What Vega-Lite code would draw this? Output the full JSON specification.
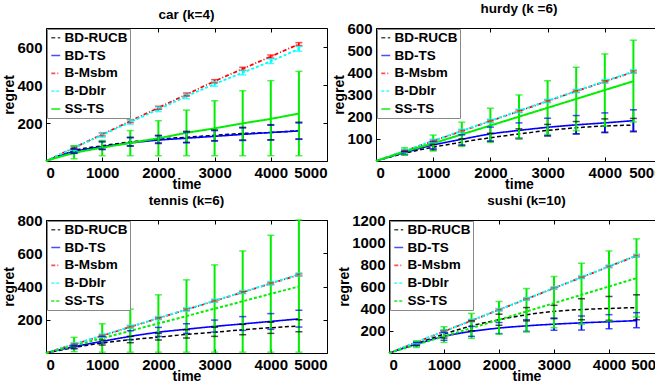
{
"$schema": "https://vega.github.io/schema/vega-lite/v6.json",
"background": "white",
"padding": {"left": 2, "top": 1, "right": -10, "bottom": 0},
"config": {
 "font": "Liberation Sans",
 "view": {"stroke": "black", "strokeWidth": 1},
 "axis": {"domain": false, "grid": false, "tickColor": "black", "tickSize": -4, "labelPadding": 8, "labelFont": "Liberation Sans", "labelFontWeight": "bold", "labelFontSize": 15, "labelColor": "black", "titleFont": "Liberation Sans", "titleFontSize": 14, "titleFontWeight": "bold", "titleColor": "black", "titlePadding": 0, "format": "d"},
 "axisX": {"titlePadding": -3},
 "title": {"font": "Liberation Sans", "fontSize": 13.5, "fontWeight": "bold", "color": "black", "offset": 6},
 "legend": {"orient": "top-left", "offset": 1, "padding": 2, "strokeColor": "#888888", "fillColor": "white", "labelFont": "Liberation Sans", "labelFontSize": 13.5, "labelFontWeight": "bold", "labelColor": "black", "symbolType": "stroke", "symbolSize": 80, "symbolStrokeWidth": 1.5, "rowPadding": 2.8, "labelOffset": 2}
},
"datasets": {
 "car": [
  {"t":0,"s":"BD-RUCB","m":0},{"t":500,"s":"BD-RUCB","m":55,"lo":42,"hi":68},{"t":1000,"s":"BD-RUCB","m":80,"lo":62,"hi":104},{"t":1500,"s":"BD-RUCB","m":100,"lo":80,"hi":125},{"t":2000,"s":"BD-RUCB","m":115,"lo":95,"hi":135},{"t":2500,"s":"BD-RUCB","m":125,"lo":98,"hi":156},{"t":3000,"s":"BD-RUCB","m":135,"lo":107,"hi":163},{"t":3500,"s":"BD-RUCB","m":145,"lo":110,"hi":177},{"t":4000,"s":"BD-RUCB","m":150,"lo":112,"hi":191},{"t":4500,"s":"BD-RUCB","m":160,"lo":116,"hi":204},
  {"t":0,"s":"BD-TS","m":0},{"t":500,"s":"BD-TS","m":50,"lo":40,"hi":62},{"t":1000,"s":"BD-TS","m":75,"lo":60,"hi":100},{"t":1500,"s":"BD-TS","m":95,"lo":78,"hi":122},{"t":2000,"s":"BD-TS","m":110,"lo":92,"hi":132},{"t":2500,"s":"BD-TS","m":120,"lo":96,"hi":152},{"t":3000,"s":"BD-TS","m":130,"lo":105,"hi":160},{"t":3500,"s":"BD-TS","m":140,"lo":108,"hi":174},{"t":4000,"s":"BD-TS","m":150,"lo":110,"hi":188},{"t":4500,"s":"BD-TS","m":158,"lo":114,"hi":200},
  {"t":0,"s":"B-Msbm","m":0},{"t":500,"s":"B-Msbm","m":70,"lo":62,"hi":78},{"t":1000,"s":"B-Msbm","m":140,"lo":132,"hi":148},{"t":1500,"s":"B-Msbm","m":210,"lo":202,"hi":218},{"t":2000,"s":"B-Msbm","m":280,"lo":272,"hi":288},{"t":2500,"s":"B-Msbm","m":350,"lo":342,"hi":358},{"t":3000,"s":"B-Msbm","m":420,"lo":412,"hi":428},{"t":3500,"s":"B-Msbm","m":485,"lo":477,"hi":493},{"t":4000,"s":"B-Msbm","m":550,"lo":542,"hi":558},{"t":4500,"s":"B-Msbm","m":615,"lo":607,"hi":623},
  {"t":0,"s":"B-Dblr","m":0},{"t":500,"s":"B-Dblr","m":68,"lo":56,"hi":80},{"t":1000,"s":"B-Dblr","m":137,"lo":125,"hi":149},{"t":1500,"s":"B-Dblr","m":205,"lo":193,"hi":217},{"t":2000,"s":"B-Dblr","m":272,"lo":260,"hi":284},{"t":2500,"s":"B-Dblr","m":340,"lo":328,"hi":352},{"t":3000,"s":"B-Dblr","m":405,"lo":393,"hi":417},{"t":3500,"s":"B-Dblr","m":465,"lo":453,"hi":477},{"t":4000,"s":"B-Dblr","m":525,"lo":513,"hi":537},{"t":4500,"s":"B-Dblr","m":590,"lo":578,"hi":602},
  {"t":0,"s":"SS-TS","m":0},{"t":500,"s":"SS-TS","m":42,"lo":12,"hi":80},{"t":1000,"s":"SS-TS","m":70,"lo":28,"hi":108},{"t":1500,"s":"SS-TS","m":95,"lo":28,"hi":160},{"t":2000,"s":"SS-TS","m":120,"lo":28,"hi":212},{"t":2500,"s":"SS-TS","m":148,"lo":28,"hi":268},{"t":3000,"s":"SS-TS","m":172,"lo":28,"hi":317},{"t":3500,"s":"SS-TS","m":198,"lo":28,"hi":370},{"t":4000,"s":"SS-TS","m":222,"lo":28,"hi":423},{"t":4500,"s":"SS-TS","m":250,"lo":28,"hi":472}
 ],
 "hurdy": [
  {"t":0,"s":"BD-RUCB","m":0},{"t":500,"s":"BD-RUCB","m":35,"lo":28,"hi":42},{"t":1000,"s":"BD-RUCB","m":62,"lo":50,"hi":75},{"t":1500,"s":"BD-RUCB","m":85,"lo":70,"hi":100},{"t":2000,"s":"BD-RUCB","m":105,"lo":88,"hi":125},{"t":2500,"s":"BD-RUCB","m":122,"lo":100,"hi":145},{"t":3000,"s":"BD-RUCB","m":138,"lo":113,"hi":165},{"t":3500,"s":"BD-RUCB","m":150,"lo":122,"hi":178},{"t":4000,"s":"BD-RUCB","m":158,"lo":128,"hi":190},{"t":4500,"s":"BD-RUCB","m":162,"lo":132,"hi":192},
  {"t":0,"s":"BD-TS","m":0},{"t":500,"s":"BD-TS","m":38,"lo":30,"hi":46},{"t":1000,"s":"BD-TS","m":72,"lo":55,"hi":88},{"t":1500,"s":"BD-TS","m":98,"lo":72,"hi":118},{"t":2000,"s":"BD-TS","m":122,"lo":90,"hi":153},{"t":2500,"s":"BD-TS","m":138,"lo":103,"hi":172},{"t":3000,"s":"BD-TS","m":152,"lo":115,"hi":193},{"t":3500,"s":"BD-TS","m":163,"lo":123,"hi":205},{"t":4000,"s":"BD-TS","m":172,"lo":130,"hi":217},{"t":4500,"s":"BD-TS","m":182,"lo":135,"hi":231},
  {"t":0,"s":"B-Msbm","m":0},{"t":500,"s":"B-Msbm","m":45,"lo":40,"hi":50},{"t":1000,"s":"B-Msbm","m":90,"lo":85,"hi":95},{"t":1500,"s":"B-Msbm","m":135,"lo":130,"hi":140},{"t":2000,"s":"B-Msbm","m":180,"lo":175,"hi":185},{"t":2500,"s":"B-Msbm","m":225,"lo":220,"hi":230},{"t":3000,"s":"B-Msbm","m":270,"lo":265,"hi":275},{"t":3500,"s":"B-Msbm","m":315,"lo":310,"hi":320},{"t":4000,"s":"B-Msbm","m":358,"lo":353,"hi":363},{"t":4500,"s":"B-Msbm","m":402,"lo":397,"hi":407},
  {"t":0,"s":"B-Dblr","m":0},{"t":500,"s":"B-Dblr","m":46,"lo":38,"hi":54},{"t":1000,"s":"B-Dblr","m":91,"lo":83,"hi":99},{"t":1500,"s":"B-Dblr","m":136,"lo":128,"hi":144},{"t":2000,"s":"B-Dblr","m":181,"lo":173,"hi":189},{"t":2500,"s":"B-Dblr","m":226,"lo":218,"hi":234},{"t":3000,"s":"B-Dblr","m":271,"lo":263,"hi":279},{"t":3500,"s":"B-Dblr","m":316,"lo":308,"hi":324},{"t":4000,"s":"B-Dblr","m":360,"lo":352,"hi":368},{"t":4500,"s":"B-Dblr","m":404,"lo":396,"hi":412},
  {"t":0,"s":"SS-TS","m":0},{"t":500,"s":"SS-TS","m":42,"lo":28,"hi":60},{"t":1000,"s":"SS-TS","m":80,"lo":45,"hi":117},{"t":1500,"s":"SS-TS","m":120,"lo":66,"hi":175},{"t":2000,"s":"SS-TS","m":160,"lo":84,"hi":238},{"t":2500,"s":"SS-TS","m":200,"lo":103,"hi":298},{"t":3000,"s":"SS-TS","m":240,"lo":120,"hi":362},{"t":3500,"s":"SS-TS","m":280,"lo":137,"hi":423},{"t":4000,"s":"SS-TS","m":320,"lo":157,"hi":483},{"t":4500,"s":"SS-TS","m":360,"lo":176,"hi":545}
 ],
 "tennis": [
  {"t":0,"s":"BD-RUCB","m":0},{"t":500,"s":"BD-RUCB","m":33,"lo":25,"hi":42},{"t":1000,"s":"BD-RUCB","m":60,"lo":48,"hi":78},{"t":1500,"s":"BD-RUCB","m":80,"lo":62,"hi":100},{"t":2000,"s":"BD-RUCB","m":95,"lo":78,"hi":118},{"t":2500,"s":"BD-RUCB","m":112,"lo":90,"hi":140},{"t":3000,"s":"BD-RUCB","m":125,"lo":100,"hi":155},{"t":3500,"s":"BD-RUCB","m":140,"lo":110,"hi":172},{"t":4000,"s":"BD-RUCB","m":152,"lo":118,"hi":185},{"t":4500,"s":"BD-RUCB","m":163,"lo":128,"hi":200},
  {"t":0,"s":"BD-TS","m":0},{"t":500,"s":"BD-TS","m":38,"lo":30,"hi":46},{"t":1000,"s":"BD-TS","m":70,"lo":60,"hi":100},{"t":1500,"s":"BD-TS","m":100,"lo":80,"hi":134},{"t":2000,"s":"BD-TS","m":125,"lo":100,"hi":154},{"t":2500,"s":"BD-TS","m":143,"lo":118,"hi":176},{"t":3000,"s":"BD-TS","m":160,"lo":126,"hi":198},{"t":3500,"s":"BD-TS","m":175,"lo":136,"hi":219},{"t":4000,"s":"BD-TS","m":190,"lo":142,"hi":237},{"t":4500,"s":"BD-TS","m":205,"lo":156,"hi":257},
  {"t":0,"s":"B-Msbm","m":0},{"t":500,"s":"B-Msbm","m":52,"lo":46,"hi":58},{"t":1000,"s":"B-Msbm","m":104,"lo":98,"hi":110},{"t":1500,"s":"B-Msbm","m":157,"lo":151,"hi":163},{"t":2000,"s":"B-Msbm","m":209,"lo":203,"hi":215},{"t":2500,"s":"B-Msbm","m":261,"lo":255,"hi":267},{"t":3000,"s":"B-Msbm","m":313,"lo":307,"hi":319},{"t":3500,"s":"B-Msbm","m":365,"lo":359,"hi":371},{"t":4000,"s":"B-Msbm","m":418,"lo":412,"hi":424},{"t":4500,"s":"B-Msbm","m":470,"lo":464,"hi":476},
  {"t":0,"s":"B-Dblr","m":0},{"t":500,"s":"B-Dblr","m":53,"lo":43,"hi":63},{"t":1000,"s":"B-Dblr","m":105,"lo":95,"hi":115},{"t":1500,"s":"B-Dblr","m":158,"lo":148,"hi":168},{"t":2000,"s":"B-Dblr","m":210,"lo":200,"hi":220},{"t":2500,"s":"B-Dblr","m":262,"lo":252,"hi":272},{"t":3000,"s":"B-Dblr","m":315,"lo":305,"hi":325},{"t":3500,"s":"B-Dblr","m":367,"lo":357,"hi":377},{"t":4000,"s":"B-Dblr","m":420,"lo":410,"hi":430},{"t":4500,"s":"B-Dblr","m":473,"lo":463,"hi":483},
  {"t":0,"s":"SS-TS","m":0},{"t":500,"s":"SS-TS","m":44,"lo":8,"hi":94},{"t":1000,"s":"SS-TS","m":89,"lo":5,"hi":176},{"t":1500,"s":"SS-TS","m":133,"lo":5,"hi":264},{"t":2000,"s":"SS-TS","m":178,"lo":5,"hi":350},{"t":2500,"s":"SS-TS","m":222,"lo":5,"hi":440},{"t":3000,"s":"SS-TS","m":267,"lo":5,"hi":530},{"t":3500,"s":"SS-TS","m":311,"lo":5,"hi":614},{"t":4000,"s":"SS-TS","m":356,"lo":5,"hi":708},{"t":4500,"s":"SS-TS","m":400,"lo":5,"hi":800}
 ],
 "sushi": [
  {"t":0,"s":"BD-RUCB","m":0},{"t":500,"s":"BD-RUCB","m":85,"lo":70,"hi":100},{"t":1000,"s":"BD-RUCB","m":170,"lo":135,"hi":205},{"t":1500,"s":"BD-RUCB","m":245,"lo":200,"hi":290},{"t":2000,"s":"BD-RUCB","m":300,"lo":250,"hi":350},{"t":2500,"s":"BD-RUCB","m":345,"lo":290,"hi":410},{"t":3000,"s":"BD-RUCB","m":375,"lo":310,"hi":430},{"t":3500,"s":"BD-RUCB","m":392,"lo":300,"hi":490},{"t":4000,"s":"BD-RUCB","m":402,"lo":295,"hi":510},{"t":4500,"s":"BD-RUCB","m":410,"lo":300,"hi":525},
  {"t":0,"s":"BD-TS","m":0},{"t":500,"s":"BD-TS","m":80,"lo":65,"hi":95},{"t":1000,"s":"BD-TS","m":150,"lo":115,"hi":185},{"t":1500,"s":"BD-TS","m":195,"lo":150,"hi":240},{"t":2000,"s":"BD-TS","m":225,"lo":175,"hi":275},{"t":2500,"s":"BD-TS","m":245,"lo":195,"hi":300},{"t":3000,"s":"BD-TS","m":260,"lo":205,"hi":315},{"t":3500,"s":"BD-TS","m":272,"lo":207,"hi":334},{"t":4000,"s":"BD-TS","m":282,"lo":219,"hi":346},{"t":4500,"s":"BD-TS","m":292,"lo":228,"hi":364},
  {"t":0,"s":"B-Msbm","m":0},{"t":500,"s":"B-Msbm","m":97,"lo":89,"hi":105},{"t":1000,"s":"B-Msbm","m":195,"lo":187,"hi":203},{"t":1500,"s":"B-Msbm","m":292,"lo":284,"hi":300},{"t":2000,"s":"B-Msbm","m":390,"lo":382,"hi":398},{"t":2500,"s":"B-Msbm","m":487,"lo":479,"hi":495},{"t":3000,"s":"B-Msbm","m":585,"lo":577,"hi":593},{"t":3500,"s":"B-Msbm","m":682,"lo":674,"hi":690},{"t":4000,"s":"B-Msbm","m":780,"lo":772,"hi":788},{"t":4500,"s":"B-Msbm","m":877,"lo":869,"hi":885},
  {"t":0,"s":"B-Dblr","m":0},{"t":500,"s":"B-Dblr","m":98,"lo":86,"hi":110},{"t":1000,"s":"B-Dblr","m":196,"lo":184,"hi":208},{"t":1500,"s":"B-Dblr","m":293,"lo":281,"hi":305},{"t":2000,"s":"B-Dblr","m":391,"lo":379,"hi":403},{"t":2500,"s":"B-Dblr","m":488,"lo":476,"hi":500},{"t":3000,"s":"B-Dblr","m":586,"lo":574,"hi":598},{"t":3500,"s":"B-Dblr","m":684,"lo":672,"hi":696},{"t":4000,"s":"B-Dblr","m":782,"lo":770,"hi":794},{"t":4500,"s":"B-Dblr","m":880,"lo":868,"hi":892},
  {"t":0,"s":"SS-TS","m":0},{"t":500,"s":"SS-TS","m":75,"lo":50,"hi":105},{"t":1000,"s":"SS-TS","m":150,"lo":96,"hi":237},{"t":1500,"s":"SS-TS","m":225,"lo":132,"hi":357},{"t":2000,"s":"SS-TS","m":300,"lo":170,"hi":465},{"t":2500,"s":"SS-TS","m":375,"lo":190,"hi":582},{"t":3000,"s":"SS-TS","m":450,"lo":228,"hi":690},{"t":3500,"s":"SS-TS","m":525,"lo":258,"hi":810},{"t":4000,"s":"SS-TS","m":600,"lo":288,"hi":921},{"t":4500,"s":"SS-TS","m":675,"lo":325,"hi":1030}
 ]
},
"vconcat": [
 {"hconcat": [
  {"width": 281, "height": 133, "title": "car (k=4)", "data": {"name": "car"},
   "layer": [
    {"mark": {"type": "line", "interpolate": "monotone"},
     "encoding": {
      "x": {"field": "t", "type": "quantitative", "scale": {"domain": [0, 5000], "nice": false}, "axis": {"values": [0,1000,2000,3000,4000,5000], "title": "time"}},
      "y": {"field": "m", "type": "quantitative", "scale": {"domain": [0, 700], "nice": false}, "axis": {"values": [200,400,600], "title": "regret"}},
      "color": {"field": "s", "type": "nominal", "scale": {"domain": ["BD-RUCB","BD-TS","B-Msbm","B-Dblr","SS-TS"], "range": ["#000000","#0000ff","#ff0000","#00ffff","#00ee00"]}, "legend": {"title": null}},
      "strokeDash": {"field": "s", "type": "nominal", "scale": {"domain": ["BD-RUCB","BD-TS","B-Msbm","B-Dblr","SS-TS"], "range": [[4,2.5],[1,0],[4,2,1,2],[3,2],[1,0]]}, "legend": {"title": null}},
      "strokeWidth": {"field": "s", "type": "nominal", "scale": {"domain": ["BD-RUCB","BD-TS","B-Msbm","B-Dblr","SS-TS"], "range": [1.5,2,1.5,2,2]}, "legend": null}}},
    {"transform": [{"filter": "datum.t > 0"}], "mark": {"type": "rule"},
     "encoding": {
      "x": {"field": "t", "type": "quantitative", "scale": {"domain": [0, 5000], "nice": false}, "axis": null},
      "y": {"field": "lo", "type": "quantitative", "scale": {"domain": [0, 700], "nice": false}, "axis": null},
      "y2": {"field": "hi"},
      "color": {"field": "s", "type": "nominal"},
      "strokeWidth": {"field": "s", "type": "nominal", "legend": null}}},
    {"transform": [{"filter": "datum.t > 0"}], "mark": {"type": "tick", "orient": "horizontal", "size": 7, "thickness": 1.5},
     "encoding": {
      "x": {"field": "t", "type": "quantitative", "scale": {"domain": [0, 5000], "nice": false}, "axis": null},
      "y": {"field": "lo", "type": "quantitative", "scale": {"domain": [0, 700], "nice": false}, "axis": null},
      "color": {"field": "s", "type": "nominal"}}},
    {"transform": [{"filter": "datum.t > 0"}], "mark": {"type": "tick", "orient": "horizontal", "size": 7, "thickness": 1.5},
     "encoding": {
      "x": {"field": "t", "type": "quantitative", "scale": {"domain": [0, 5000], "nice": false}, "axis": null},
      "y": {"field": "hi", "type": "quantitative", "scale": {"domain": [0, 700], "nice": false}, "axis": null},
      "color": {"field": "s", "type": "nominal"}}},
    {"mark": {"type": "point", "opacity": 0},
     "encoding": {
      "x": {"field": "t", "type": "quantitative", "scale": {"domain": [0, 5000], "nice": false}, "axis": {"orient": "top", "labels": false, "title": null, "values": [0,1000,2000,3000,4000,5000]}},
      "y": {"field": "m", "type": "quantitative", "scale": {"domain": [0, 700], "nice": false}, "axis": {"orient": "right", "labels": false, "title": null, "values": [200,400,600]}}}}
   ],
   "resolve": {"axis": {"x": "independent", "y": "independent"}}},
  {"width": 286, "height": 133, "title": "hurdy (k =6)", "data": {"name": "hurdy"},
   "layer": [
    {"mark": {"type": "line", "interpolate": "monotone"},
     "encoding": {
      "x": {"field": "t", "type": "quantitative", "scale": {"domain": [0, 5000], "nice": false}, "axis": {"values": [0,1000,2000,3000,4000,5000], "title": "time"}},
      "y": {"field": "m", "type": "quantitative", "scale": {"domain": [0, 600], "nice": false}, "axis": {"values": [100,200,300,400,500,600], "title": "regret"}},
      "color": {"field": "s", "type": "nominal", "scale": {"domain": ["BD-RUCB","BD-TS","B-Msbm","B-Dblr","SS-TS"], "range": ["#000000","#0000ff","#ff0000","#00ffff","#00ee00"]}, "legend": {"title": null}},
      "strokeDash": {"field": "s", "type": "nominal", "scale": {"domain": ["BD-RUCB","BD-TS","B-Msbm","B-Dblr","SS-TS"], "range": [[4,2.5],[1,0],[4,2,1,2],[3,2],[1,0]]}, "legend": {"title": null}},
      "strokeWidth": {"field": "s", "type": "nominal", "scale": {"domain": ["BD-RUCB","BD-TS","B-Msbm","B-Dblr","SS-TS"], "range": [1.5,2,1.5,2,2]}, "legend": null}}},
    {"transform": [{"filter": "datum.t > 0"}], "mark": {"type": "rule"},
     "encoding": {
      "x": {"field": "t", "type": "quantitative", "scale": {"domain": [0, 5000], "nice": false}, "axis": null},
      "y": {"field": "lo", "type": "quantitative", "scale": {"domain": [0, 600], "nice": false}, "axis": null},
      "y2": {"field": "hi"},
      "color": {"field": "s", "type": "nominal"},
      "strokeWidth": {"field": "s", "type": "nominal", "legend": null}}},
    {"transform": [{"filter": "datum.t > 0"}], "mark": {"type": "tick", "orient": "horizontal", "size": 7, "thickness": 1.5},
     "encoding": {
      "x": {"field": "t", "type": "quantitative", "scale": {"domain": [0, 5000], "nice": false}, "axis": null},
      "y": {"field": "lo", "type": "quantitative", "scale": {"domain": [0, 600], "nice": false}, "axis": null},
      "color": {"field": "s", "type": "nominal"}}},
    {"transform": [{"filter": "datum.t > 0"}], "mark": {"type": "tick", "orient": "horizontal", "size": 7, "thickness": 1.5},
     "encoding": {
      "x": {"field": "t", "type": "quantitative", "scale": {"domain": [0, 5000], "nice": false}, "axis": null},
      "y": {"field": "hi", "type": "quantitative", "scale": {"domain": [0, 600], "nice": false}, "axis": null},
      "color": {"field": "s", "type": "nominal"}}},
    {"mark": {"type": "point", "opacity": 0},
     "encoding": {
      "x": {"field": "t", "type": "quantitative", "scale": {"domain": [0, 5000], "nice": false}, "axis": {"orient": "top", "labels": false, "title": null, "values": [0,1000,2000,3000,4000,5000]}},
      "y": {"field": "m", "type": "quantitative", "scale": {"domain": [0, 600], "nice": false}, "axis": {"orient": "right", "labels": false, "title": null, "values": [100,200,300,400,500,600]}}}}
   ],
   "resolve": {"axis": {"x": "independent", "y": "independent"}}}
 ],
 "spacing": 49, "bounds": "flush",
 "resolve": {"scale": {"color": "independent", "strokeDash": "independent", "strokeWidth": "independent"}, "legend": {"color": "independent", "strokeDash": "independent"}}},
 {"hconcat": [
  {"width": 281, "height": 133, "title": "tennis (k=6)", "data": {"name": "tennis"},
   "layer": [
    {"mark": {"type": "line", "interpolate": "monotone"},
     "encoding": {
      "x": {"field": "t", "type": "quantitative", "scale": {"domain": [0, 5000], "nice": false}, "axis": {"values": [0,1000,2000,3000,4000,5000], "title": "time"}},
      "y": {"field": "m", "type": "quantitative", "scale": {"domain": [0, 800], "nice": false}, "axis": {"values": [200,400,600,800], "title": "regret"}},
      "color": {"field": "s", "type": "nominal", "scale": {"domain": ["BD-RUCB","BD-TS","B-Msbm","B-Dblr","SS-TS"], "range": ["#000000","#0000ff","#ff0000","#00ffff","#00ee00"]}, "legend": {"title": null}},
      "strokeDash": {"field": "s", "type": "nominal", "scale": {"domain": ["BD-RUCB","BD-TS","B-Msbm","B-Dblr","SS-TS"], "range": [[4,2.5],[1,0],[4,2,1,2],[3,2],[3,2]]}, "legend": {"title": null}},
      "strokeWidth": {"field": "s", "type": "nominal", "scale": {"domain": ["BD-RUCB","BD-TS","B-Msbm","B-Dblr","SS-TS"], "range": [1.5,2,1.5,2,2]}, "legend": null}}},
    {"transform": [{"filter": "datum.t > 0"}], "mark": {"type": "rule"},
     "encoding": {
      "x": {"field": "t", "type": "quantitative", "scale": {"domain": [0, 5000], "nice": false}, "axis": null},
      "y": {"field": "lo", "type": "quantitative", "scale": {"domain": [0, 800], "nice": false}, "axis": null},
      "y2": {"field": "hi"},
      "color": {"field": "s", "type": "nominal"},
      "strokeWidth": {"field": "s", "type": "nominal", "legend": null}}},
    {"transform": [{"filter": "datum.t > 0"}], "mark": {"type": "tick", "orient": "horizontal", "size": 7, "thickness": 1.5},
     "encoding": {
      "x": {"field": "t", "type": "quantitative", "scale": {"domain": [0, 5000], "nice": false}, "axis": null},
      "y": {"field": "lo", "type": "quantitative", "scale": {"domain": [0, 800], "nice": false}, "axis": null},
      "color": {"field": "s", "type": "nominal"}}},
    {"transform": [{"filter": "datum.t > 0"}], "mark": {"type": "tick", "orient": "horizontal", "size": 7, "thickness": 1.5},
     "encoding": {
      "x": {"field": "t", "type": "quantitative", "scale": {"domain": [0, 5000], "nice": false}, "axis": null},
      "y": {"field": "hi", "type": "quantitative", "scale": {"domain": [0, 800], "nice": false}, "axis": null},
      "color": {"field": "s", "type": "nominal"}}},
    {"mark": {"type": "point", "opacity": 0},
     "encoding": {
      "x": {"field": "t", "type": "quantitative", "scale": {"domain": [0, 5000], "nice": false}, "axis": {"orient": "top", "labels": false, "title": null, "values": [0,1000,2000,3000,4000,5000]}},
      "y": {"field": "m", "type": "quantitative", "scale": {"domain": [0, 800], "nice": false}, "axis": {"orient": "right", "labels": false, "title": null, "values": [200,400,600,800]}}}}
   ],
   "resolve": {"axis": {"x": "independent", "y": "independent"}}},
  {"width": 275, "height": 133, "title": "sushi (k=10)", "data": {"name": "sushi"},
   "layer": [
    {"mark": {"type": "line", "interpolate": "monotone"},
     "encoding": {
      "x": {"field": "t", "type": "quantitative", "scale": {"domain": [0, 5000], "nice": false}, "axis": {"values": [0,1000,2000,3000,4000,5000], "title": "time"}},
      "y": {"field": "m", "type": "quantitative", "scale": {"domain": [0, 1200], "nice": false}, "axis": {"values": [200,400,600,800,1000,1200], "title": "regret"}},
      "color": {"field": "s", "type": "nominal", "scale": {"domain": ["BD-RUCB","BD-TS","B-Msbm","B-Dblr","SS-TS"], "range": ["#000000","#0000ff","#ff0000","#00ffff","#00ee00"]}, "legend": {"title": null}},
      "strokeDash": {"field": "s", "type": "nominal", "scale": {"domain": ["BD-RUCB","BD-TS","B-Msbm","B-Dblr","SS-TS"], "range": [[4,2.5],[1,0],[4,2,1,2],[3,2],[3,2]]}, "legend": {"title": null}},
      "strokeWidth": {"field": "s", "type": "nominal", "scale": {"domain": ["BD-RUCB","BD-TS","B-Msbm","B-Dblr","SS-TS"], "range": [1.5,2,1.5,2,2]}, "legend": null}}},
    {"transform": [{"filter": "datum.t > 0"}], "mark": {"type": "rule"},
     "encoding": {
      "x": {"field": "t", "type": "quantitative", "scale": {"domain": [0, 5000], "nice": false}, "axis": null},
      "y": {"field": "lo", "type": "quantitative", "scale": {"domain": [0, 1200], "nice": false}, "axis": null},
      "y2": {"field": "hi"},
      "color": {"field": "s", "type": "nominal"},
      "strokeWidth": {"field": "s", "type": "nominal", "legend": null}}},
    {"transform": [{"filter": "datum.t > 0"}], "mark": {"type": "tick", "orient": "horizontal", "size": 7, "thickness": 1.5},
     "encoding": {
      "x": {"field": "t", "type": "quantitative", "scale": {"domain": [0, 5000], "nice": false}, "axis": null},
      "y": {"field": "lo", "type": "quantitative", "scale": {"domain": [0, 1200], "nice": false}, "axis": null},
      "color": {"field": "s", "type": "nominal"}}},
    {"transform": [{"filter": "datum.t > 0"}], "mark": {"type": "tick", "orient": "horizontal", "size": 7, "thickness": 1.5},
     "encoding": {
      "x": {"field": "t", "type": "quantitative", "scale": {"domain": [0, 5000], "nice": false}, "axis": null},
      "y": {"field": "hi", "type": "quantitative", "scale": {"domain": [0, 1200], "nice": false}, "axis": null},
      "color": {"field": "s", "type": "nominal"}}},
    {"mark": {"type": "point", "opacity": 0},
     "encoding": {
      "x": {"field": "t", "type": "quantitative", "scale": {"domain": [0, 5000], "nice": false}, "axis": {"orient": "top", "labels": false, "title": null, "values": [0,1000,2000,3000,4000,5000]}},
      "y": {"field": "m", "type": "quantitative", "scale": {"domain": [0, 1200], "nice": false}, "axis": {"orient": "right", "labels": false, "title": null, "values": [200,400,600,800,1000,1200]}}}}
   ],
   "resolve": {"axis": {"x": "independent", "y": "independent"}}}
 ],
 "spacing": 62, "bounds": "flush",
 "resolve": {"scale": {"color": "independent", "strokeDash": "independent", "strokeWidth": "independent"}, "legend": {"color": "independent", "strokeDash": "independent"}}}
],
"spacing": 1,
"resolve": {"scale": {"color": "independent", "strokeDash": "independent", "strokeWidth": "independent"}, "legend": {"color": "independent", "strokeDash": "independent"}}
}
